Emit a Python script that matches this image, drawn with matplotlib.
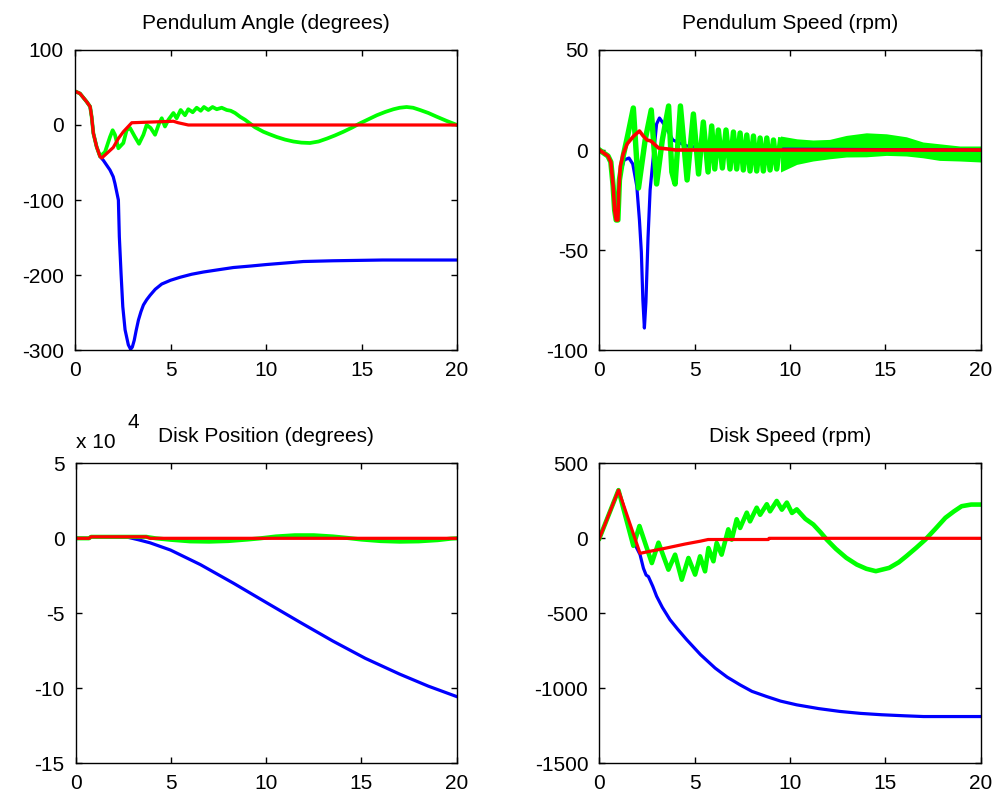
import numpy as np
import matplotlib
matplotlib.use('Agg')
from matplotlib import pyplot as plt

plt.rcParams['font.family'] = ['Liberation Sans', 'DejaVu Sans']

# ---------------- Pendulum Angle (degrees) ----------------
pa_red_t = [0, 0.26, 0.61, 0.79, 0.87, 0.96, 1.13, 1.31, 1.4, 2.0, 2.27, 2.53, 2.97, 5.15, 5.4, 5.93, 20]
pa_red_v = [45, 42, 31, 24.5, 11, -11, -29, -42, -44, -30, -18, -9, 3, 5, 3, 0, 0]

pa_blue_t = [0, 0.26, 0.61, 0.79, 0.87, 0.96, 1.13, 1.31, 1.48, 1.83, 2.0, 2.09, 2.27, 2.32, 2.41, 2.5,
             2.62, 2.79, 2.91, 3.0, 3.1, 3.2, 3.32, 3.45, 3.58, 3.75, 3.93, 4.2, 4.54, 5.0, 5.5, 6.1,
             6.72, 7.5, 8.29, 9.2, 10.03, 11.0, 11.95, 13.5, 16.1, 20]
pa_blue_v = [45, 42, 31, 24.5, 11, -11, -29, -42, -47, -60, -69, -78, -100, -149, -198, -242,
             -273, -293, -299, -296, -287, -274, -260, -249, -240, -233, -227, -219, -212, -207, -203, -199,
             -196, -193, -190, -188, -186, -184, -182, -181, -180, -180]

pa_green_t = [0, 0.26, 0.61, 0.79, 0.87, 0.96, 1.13, 1.31, 1.57, 1.83, 1.97, 2.09, 2.27, 2.53, 2.7, 2.88,
              3.14, 3.35, 3.58, 3.75, 3.96, 4.19, 4.4, 4.54, 4.71, 4.89, 5.15, 5.32, 5.53, 5.76, 5.93,
              6.16, 6.37, 6.58, 6.75, 6.98, 7.2, 7.42, 7.68, 7.94, 8.15, 8.38, 8.64, 8.9, 9.16, 9.42,
              9.86, 10.2, 10.56, 11.0, 11.43, 11.85, 12.3, 12.75, 13.2, 13.6, 14.05, 14.5, 14.9, 15.35,
              15.8, 16.25, 16.67, 17.0, 17.36, 17.7, 18.06, 18.5, 18.94, 19.45, 20]
pa_green_v = [45, 42, 31, 24.5, 11, -11, -29, -42, -36, -16, -7, -13, -31, -24, -7, -4,
              -16, -25, -13, 0, -4, -13, 2, 9, -2, 7, 16, 9, 20, 13, 21,
              17, 23, 19, 24, 20, 24, 21, 23, 20, 19, 16, 11, 7, 2, -3,
              -9, -12.5, -16, -19.5, -22, -23.5, -24, -22, -18, -14, -9, -3.5, 2, 7.5,
              13, 17.5, 21, 23, 24, 23, 20, 16, 11, 5.5, 0]

# ---------------- Pendulum Speed (rpm) ----------------
ps_red_t = [0, 0.45, 0.6, 0.72, 0.8, 0.88, 0.97, 1.02, 1.1, 1.25, 1.45, 1.8, 2.1, 2.3, 2.5, 2.7, 3.1, 3.6, 4.0, 20]
ps_red_v = [0, -3, -6, -18, -30, -35, -35, -20, -8, -2, 3, 7, 9.5, 7, 5, 4.5, 1, 0.5, 0, 0]

ps_blue_t = [0, 0.45, 0.6, 0.72, 0.8, 0.88, 0.97, 1.08, 1.3, 1.55, 1.75, 1.96, 2.1, 2.2, 2.28, 2.36, 2.44,
             2.55, 2.66, 2.83, 3.0, 3.15, 3.45, 3.85, 4.6, 5.5, 7.0, 20]
ps_blue_v = [0, -3, -6, -18, -30, -35, -35, -12, -5, -4, -7, -18, -35, -51, -75, -89, -76,
             -44, -20, -3, 13, 16, 12, 5, 2, 1, 0.5, 0]

ps_green_t = [0, 0.45, 0.6, 0.72, 0.8, 0.88, 0.97, 1.05, 1.25, 1.5, 1.78, 2.05, 2.4, 2.72, 3.0, 3.3,
              3.63, 3.8, 3.97, 4.25, 4.6, 4.93, 5.2, 5.45, 5.7, 5.89, 6.05, 6.24, 6.45, 6.64, 6.85,
              7.03, 7.2, 7.38, 7.55, 7.73, 7.9, 8.08, 8.25, 8.43, 8.6, 8.78, 8.95, 9.13, 9.3, 9.5]
ps_green_v = [0, -3, -6, -18, -30, -35, -35, -15, -3, 8, 21, -19, 5, 20, -17, 5,
              22, -11, -17, 22, -15, 18, -12, 14, -11, 12, -9.5, 10, -9, 10, -9.5,
              9, -9.5, 8.5, -10, 7.5, -10.5, 7, -10.5, 6, -10.5, 6, -10, 5, -9.5, 5]

# dense oscillation band after ~9.5 s (upper / lower edge)
ps_band_t = [9.5, 10.35, 11.2, 12.07, 12.95, 14.0, 15.05, 16.1, 16.97, 17.84, 18.9, 20]
ps_band_hi = [7, 5.6, 5, 5.3, 7.3, 8.6, 8.1, 6.6, 4, 3.1, 2, 2]
ps_band_lo = [-11, -7.2, -5.5, -4.4, -3.5, -3.4, -2.7, -3, -3.9, -5.2, -5.5, -6]

# ---------------- Disk Position (degrees), x 10^4 ----------------
dp_red_t = [0, 0.7, 0.8, 3.7, 3.9, 20]
dp_red_v = [0, 0, 0.1, 0.1, 0, 0]

dp_blue_t = [0, 0.7, 0.8, 2.7, 3.3, 3.9, 4.97, 6.54, 8.29, 10.03, 11.78, 13.5, 15.2, 17.0, 18.5, 20]
dp_blue_v = [0, 0, 0.1, 0.08, -0.1, -0.3, -0.78, -1.75, -3.0, -4.3, -5.6, -6.85, -8.0, -9.05, -9.85, -10.55]

dp_green_t = [0, 0.7, 0.8, 3.7, 4.2, 5.0, 6.0, 7.0, 8.0, 9.0, 9.7, 10.5, 11.5, 12.5, 13.5, 14.3,
              15.0, 16.0, 17.0, 18.0, 19.0, 19.7, 20]
dp_green_v = [0, 0, 0.1, 0.1, 0, -0.1, -0.2, -0.22, -0.18, -0.08, 0, 0.12, 0.2, 0.2, 0.12, 0.02,
              -0.08, -0.18, -0.22, -0.2, -0.12, -0.02, 0]

# ---------------- Disk Speed (rpm) ----------------
ds_red_t = [0, 1.0, 2.13, 3.5, 4.5, 5.3, 5.7, 8.86, 8.9, 20]
ds_red_v = [0, 321, -100, -65, -38, -19, -8, -8, 0, 0]

ds_blue_t = [0, 1.0, 1.9, 2.13, 2.31, 2.45, 2.57, 2.8, 3.0, 3.3, 3.7, 4.1, 4.58, 5.3, 6.07, 6.7, 7.38,
             8.0, 8.78, 9.5, 10.35, 11.5, 12.62, 13.7, 14.8, 16.0, 17.0, 20]
ds_blue_v = [0, 321, -50, -108, -200, -245, -255, -320, -386, -460, -542, -605, -676, -775, -865, -925, -977,
             -1020, -1055, -1085, -1110, -1135, -1154, -1167, -1176, -1183, -1188, -1188]

ds_green_t = [0, 1.0, 1.78, 2.1, 2.75, 3.1, 3.62, 3.97, 4.32, 4.67, 5.02, 5.28, 5.54, 5.72, 5.98,
              6.15, 6.41, 6.76, 6.94, 7.2, 7.38, 7.73, 7.9, 8.25, 8.43, 8.78, 8.95, 9.3, 9.57, 9.83,
              10.1, 10.35, 10.8, 11.22, 11.6, 11.92, 12.4, 12.95, 13.5, 14.0, 14.5, 15.2, 15.7, 16.1,
              16.6, 17.1, 17.6, 18.15, 18.6, 19.0, 19.5, 20]
ds_green_v = [0, 321, -50, 82, -165, -29, -209, -109, -276, -131, -242, -120, -220, -65, -153,
              -31, -109, 60, -9, 127, 69, 171, 113, 204, 157, 227, 180, 249, 191, 238,
              169, 193, 130, 92, 40, -8, -70, -130, -175, -203, -219, -197, -160, -119,
              -65, -8, 60, 137, 180, 214, 225, 225]

titles = ['Pendulum Angle (degrees)', 'Pendulum Speed (rpm)', 'Disk Position (degrees)', 'Disk Speed (rpm)']
yticks = [[-300, -200, -100, 0, 100], [-100, -50, 0, 50], [-15, -10, -5, 0, 5], [-1500, -1000, -500, 0, 500]]
xticks = [0, 5, 10, 15, 20]

BLUE = '#0000ff'
GREEN = '#00ff00'
RED = '#ff0000'
FS = 15

fig = plt.figure(figsize=(9.99, 8.01), dpi=100)
boxes = [[0.0751, 0.563, 0.3824, 0.3746],
         [0.600, 0.563, 0.3817, 0.3746],
         [0.0758, 0.047, 0.3814, 0.3746],
         [0.600, 0.047, 0.3817, 0.3746]]
axs = [fig.add_axes(b) for b in boxes]


def style(ax, title, yt):
    ax.set_xlim(0, 20)
    ax.set_ylim(yt[0], yt[-1])
    ax.set_xticks(xticks)
    ax.set_yticks(yt)
    ax.set_xticklabels([str(v) for v in xticks])
    ax.set_yticklabels([str(v) for v in yt])
    ax.tick_params(direction='in', length=4, width=1, top=True, right=True,
                   labelsize=FS, color='black')
    ax.tick_params(axis='y', pad=8)
    ax.tick_params(axis='x', pad=8)
    for s in ax.spines.values():
        s.set_linewidth(1.0)
    ax.set_title(title, fontsize=FS, pad=15)


lw = 2.3

ax = axs[0]
ax.plot(pa_blue_t, pa_blue_v, color=BLUE, lw=lw)
ax.plot(pa_green_t, pa_green_v, color=GREEN, lw=lw + 0.4)
ax.plot(pa_red_t, pa_red_v, color=RED, lw=lw)
style(ax, titles[0], yticks[0])

ax = axs[1]
ax.plot(ps_blue_t, ps_blue_v, color=BLUE, lw=lw)
ax.plot(ps_green_t, ps_green_v, color=GREEN, lw=lw + 1.6)
ax.fill_between(ps_band_t, ps_band_lo, ps_band_hi, color=GREEN, lw=0)
ax.plot(ps_red_t, ps_red_v, color=RED, lw=lw + 0.3)
style(ax, titles[1], yticks[1])

ax = axs[2]
ax.plot(dp_blue_t, dp_blue_v, color=BLUE, lw=lw)
ax.plot(dp_green_t, dp_green_v, color=GREEN, lw=lw + 0.7)
ax.plot(dp_red_t, dp_red_v, color=RED, lw=lw)
style(ax, titles[2], yticks[2])
ax.text(0.0, 1.051, 'x 10', transform=ax.transAxes, fontsize=FS, va='baseline', ha='left')
ax.text(0.135, 1.118, '4', transform=ax.transAxes, fontsize=FS, va='baseline', ha='left')

ax = axs[3]
ax.plot(ds_blue_t, ds_blue_v, color=BLUE, lw=lw)
ax.plot(ds_green_t, ds_green_v, color=GREEN, lw=lw + 1.0)
ax.plot(ds_red_t, ds_red_v, color=RED, lw=lw)
style(ax, titles[3], yticks[3])

fig.savefig('out.png', dpi=100)
